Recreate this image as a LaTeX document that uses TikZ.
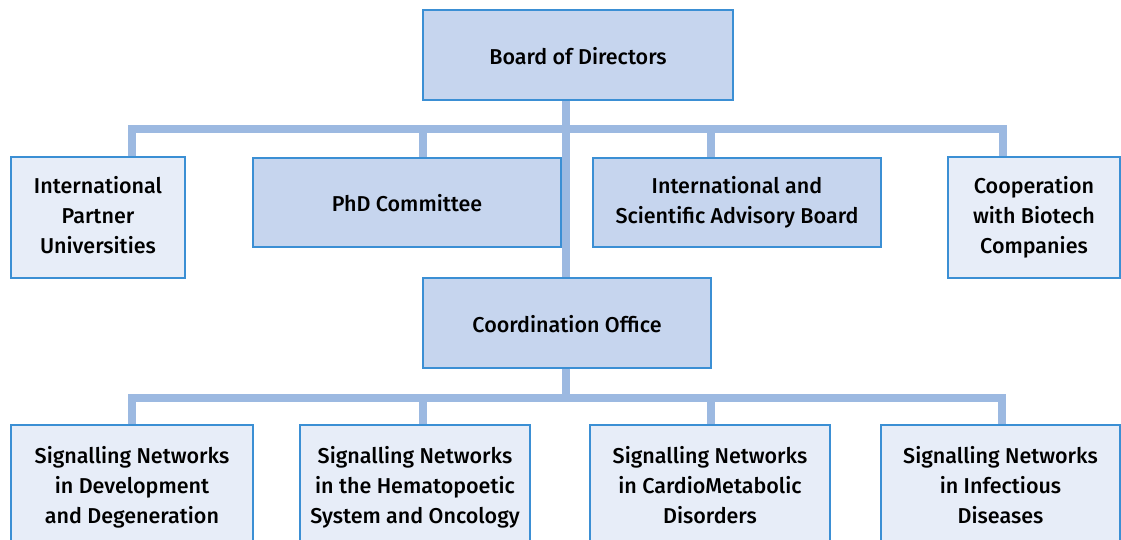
\documentclass[tikz,border=0pt]{standalone}
\usepackage{fontspec}
\setmainfont{Fira Sans}[UprightFont={* Medium}]
\definecolor{boxline}{HTML}{3B8FD4}
\definecolor{darkfill}{HTML}{C6D5EE}
\definecolor{lightfill}{HTML}{E7EDF8}
\definecolor{linkblue}{HTML}{9CB9E1}

\begin{document}
\begin{tikzpicture}[x=1pt,y=-1pt,
  box/.style={draw=boxline,line width=1.2pt,inner sep=0pt,align=center,
    font=\fontsize{21.5}{30}\selectfont,
    execute at begin node=\rule{0pt}{24.5pt},
    execute at end node=\rule[-6pt]{0pt}{6pt}},
  darkbox/.style={box,fill=darkfill},
  lightbox/.style={box,fill=lightfill},
  link/.style={draw=linkblue,line width=8pt}]
\clip (0,0) rectangle (1121,539);
% top level
\node[darkbox,minimum width=310,minimum height=90] (board) at (578,55) {Board of Directors};
\node[lightbox,minimum width=174,minimum height=121] (partner) at (98,217.5) {International\\Partner\\Universities};
\node[darkbox,minimum width=308,minimum height=89] (phd) at (407,202.5) {PhD Committee};
\node[darkbox,minimum width=288,minimum height=89] (advisory) at (737,202.5) {International and\\Scientific Advisory Board};
\node[lightbox,minimum width=172,minimum height=121] (biotech) at (1034,217.5) {Cooperation\\with Biotech\\Companies};
\node[darkbox,minimum width=288,minimum height=90] (office) at (567,323) {Coordination Office};
% networks
\node[lightbox,minimum width=242,minimum height=126] (net1) at (132,488) {Signalling Networks\\in Development\\and Degeneration};
\node[lightbox,minimum width=230,minimum height=126] (net2) at (415,488) {Signalling Networks\\in the Hematopoetic\\System and Oncology};
\node[lightbox,minimum width=240,minimum height=126] (net3) at (710,488) {Signalling Networks\\in CardioMetabolic\\Disorders};
\node[lightbox,minimum width=239,minimum height=126] (net4) at (1000.5,488) {Signalling Networks\\in Infectious\\Diseases};
% bus lines
\coordinate (t1) at (132,129);
\coordinate (t2) at (423,129);
\coordinate (t3) at (566,129);
\coordinate (t4) at (711,129);
\coordinate (t5) at (1003,129);
\coordinate (b1) at (132,398);
\coordinate (b2) at (423,398);
\coordinate (b3) at (566,398);
\coordinate (b4) at (711,398);
\coordinate (b5) at (1002,398);
\path[link] (t1 |- partner.north) -- (t1) -- (t5) -- (t5 |- biotech.north);
\path[link] (t2) -- (t2 |- phd.north);
\path[link] (t4) -- (t4 |- advisory.north);
\path[link] (t3 |- board.south) -- (t3 |- office.north);
\path[link] (b1 |- net1.north) -- (b1) -- (b5) -- (b5 |- net4.north);
\path[link] (b2) -- (b2 |- net2.north);
\path[link] (b4) -- (b4 |- net3.north);
\path[link] (b3 |- office.south) -- (b3);
\end{tikzpicture}
\end{document}
